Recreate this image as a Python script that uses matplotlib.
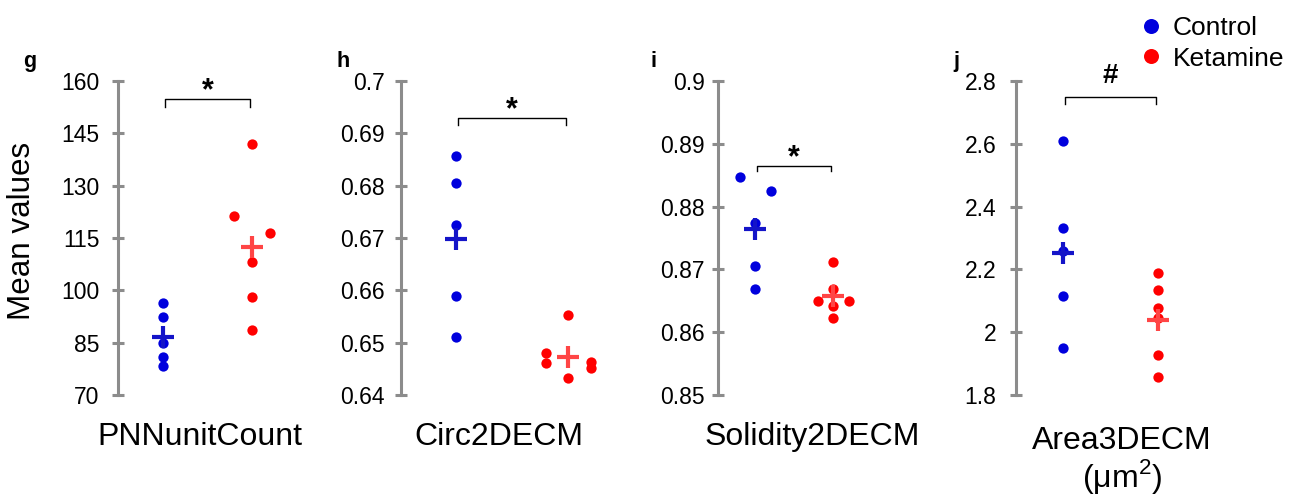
import numpy as np
import matplotlib
matplotlib.use("Agg")
import matplotlib.pyplot as plt
from matplotlib.lines import Line2D

plt.rcParams['font.family'] = ['Liberation Sans', 'DejaVu Sans']
plt.rcParams['mathtext.fontset'] = 'custom'
plt.rcParams['mathtext.rm'] = 'Liberation Sans'

# --- data ---
panel_letters = ["g", "h", "i", "j"]
metric_names = ["PNNunitCount", "Circ2DECM", "Solidity2DECM", "Area3DECM"]
unit_j = "(\u03bcm$^{2}$)"

ctrl_g = [96.4, 92.3, 84.8, 81.0, 78.3]
ket_g = [142.0, 121.4, 116.4, 108.0, 98.0, 88.5]
ctrl_h = [0.6857, 0.6806, 0.6725, 0.6590, 0.6510]
ket_h = [0.6553, 0.6480, 0.6461, 0.6464, 0.6451, 0.6432]
ctrl_i = [0.8847, 0.8825, 0.8774, 0.8706, 0.8669]
ket_i = [0.8711, 0.8668, 0.8650, 0.8650, 0.8642, 0.8622]
ctrl_j = [2.608, 2.332, 2.260, 2.114, 1.950]
ket_j = [2.190, 2.133, 2.077, 2.045, 1.926, 1.858]

yticks_g = [70, 85, 100, 115, 130, 145, 160]
yticks_h = [0.64, 0.65, 0.66, 0.67, 0.68, 0.69, 0.7]
yticks_i = [0.85, 0.86, 0.87, 0.88, 0.89, 0.9]
yticks_j = [1.8, 2, 2.2, 2.4, 2.6, 2.8]
ytick_labels_g = ["70", "85", "100", "115", "130", "145", "160"]
ytick_labels_h = ["0.64", "0.65", "0.66", "0.67", "0.68", "0.69", "0.7"]
ytick_labels_i = ["0.85", "0.86", "0.87", "0.88", "0.89", "0.9"]
ytick_labels_j = ["1.8", "2", "2.2", "2.4", "2.6", "2.8"]

sig_marks = ["*", "*", "*", "#"]
bracket_top = [154.8, 0.6929, 0.88647, 2.750]
bracket_bottom = [152.5, 0.6916, 0.88572, 2.727]

# --- layout (pixels) ---
W, H = 1303, 504
spine_x = [118, 400.7, 717.7, 1016]
ctrl_pos = [45, 55.3, 37.6, 46.7]
ket_pos = [134, 167, 115, 141.7]
ctrl_jit = [[0, 0, 0, 0, 0], [0, 0, 0, 0, 0], [-15, 16, 0, 0, 0], [0, 0, 0, 0, 0]]
ket_jit = [[0, -18, 18, 0, 0, 0], [0, -22, -22, 23, 23, 0],
           [0, 0, -15, 16, 0, 0], [0, 0, 0, 0, 0, 0]]
label_pad = [9, 7, 5, 10]
label_cx = [200, 499, 812, 1122]
letter_x = [23, 337, 650, 953]
sig_offset = [0, 0, 0, 10]
sig_size = [22, 22, 22, 20]
ax_w = 200
ax_top, ax_bot = 81, 395

blue, red = "#0000dd", "#ff0000"
blue_mean, red_mean = "#1414c8", "#ff4545"
gray = "#8c8c8c"

ctrls = [ctrl_g, ctrl_h, ctrl_i, ctrl_j]
kets = [ket_g, ket_h, ket_i, ket_j]
yticks = [yticks_g, yticks_h, yticks_i, yticks_j]
ylabels = [ytick_labels_g, ytick_labels_h, ytick_labels_i, ytick_labels_j]

fig = plt.figure(figsize=(W / 100, H / 100), dpi=100)

for k in range(4):
    ax = fig.add_axes([spine_x[k] / W, 1 - ax_bot / H, ax_w / W, (ax_bot - ax_top) / H])
    ax.set_xlim(0, ax_w)
    ax.set_ylim(yticks[k][0], yticks[k][-1])
    ax.patch.set_visible(False)
    for s in ["top", "right", "bottom"]:
        ax.spines[s].set_visible(False)
    ax.spines["left"].set_color(gray)
    ax.spines["left"].set_linewidth(2.2)
    ax.set_xticks([])
    ax.set_yticks(yticks[k])
    ax.set_yticklabels(ylabels[k])
    ax.tick_params(axis="y", direction="inout", length=8.6, width=2.2, color=gray,
                   labelsize=16.5, pad=label_pad[k])

    c = np.array(ctrls[k])
    t = np.array(kets[k])
    ax.scatter(ctrl_pos[k] + np.array(ctrl_jit[k]), c, s=55, color=blue, lw=0, clip_on=False, zorder=3)
    ax.scatter(ket_pos[k] + np.array(ket_jit[k]), t, s=55, color=red, lw=0, clip_on=False, zorder=3)
    ax.plot([ctrl_pos[k]], [c.mean()], marker="+", ms=16, mew=3, color=blue_mean, zorder=4)
    ax.plot([ket_pos[k]], [t.mean()], marker="+", ms=16, mew=3, color=red_mean, zorder=4)

    # significance bracket
    x0, x1 = ctrl_pos[k] + 2, ket_pos[k] - 2
    ax.plot([x0, x0, x1, x1], [bracket_bottom[k], bracket_top[k], bracket_top[k], bracket_bottom[k]],
            color="black", lw=1.0, clip_on=False)
    ax.annotate(sig_marks[k], xy=((x0 + x1) / 2, bracket_top[k]), xytext=(0, sig_offset[k]),
                textcoords="offset points", ha="center", va="baseline",
                fontsize=sig_size[k], fontweight="bold", annotation_clip=False)

    fig.text(letter_x[k] / W, 1 - 67 / H, panel_letters[k], fontsize=15.5,
             fontweight="bold", ha="left", va="baseline")
    label_y = 437 if k < 3 else 441
    fig.text(label_cx[k] / W, 1 - label_y / H, metric_names[k], fontsize=23, ha="center", va="center")

fig.text(label_cx[3] / W, 1 - 476 / H, unit_j, fontsize=23, ha="center", va="center")

fig.text(22 / W, 1 - 231 / H, "Mean values", fontsize=22.6, rotation=90, ha="center", va="center")

handles = [Line2D([], [], ls="", marker="o", ms=10.8, color=blue, mew=0),
           Line2D([], [], ls="", marker="o", ms=10.8, color=red, mew=0)]
fig.legend(handles, ["Control", "Ketamine"], loc="upper left",
           bbox_to_anchor=(1140 / W, 1 - 16 / H), frameon=False, fontsize=19,
           handlelength=0.8, handletextpad=0.45, labelspacing=0.25,
           borderpad=0, borderaxespad=0)

fig.savefig("out.png", dpi=100)
